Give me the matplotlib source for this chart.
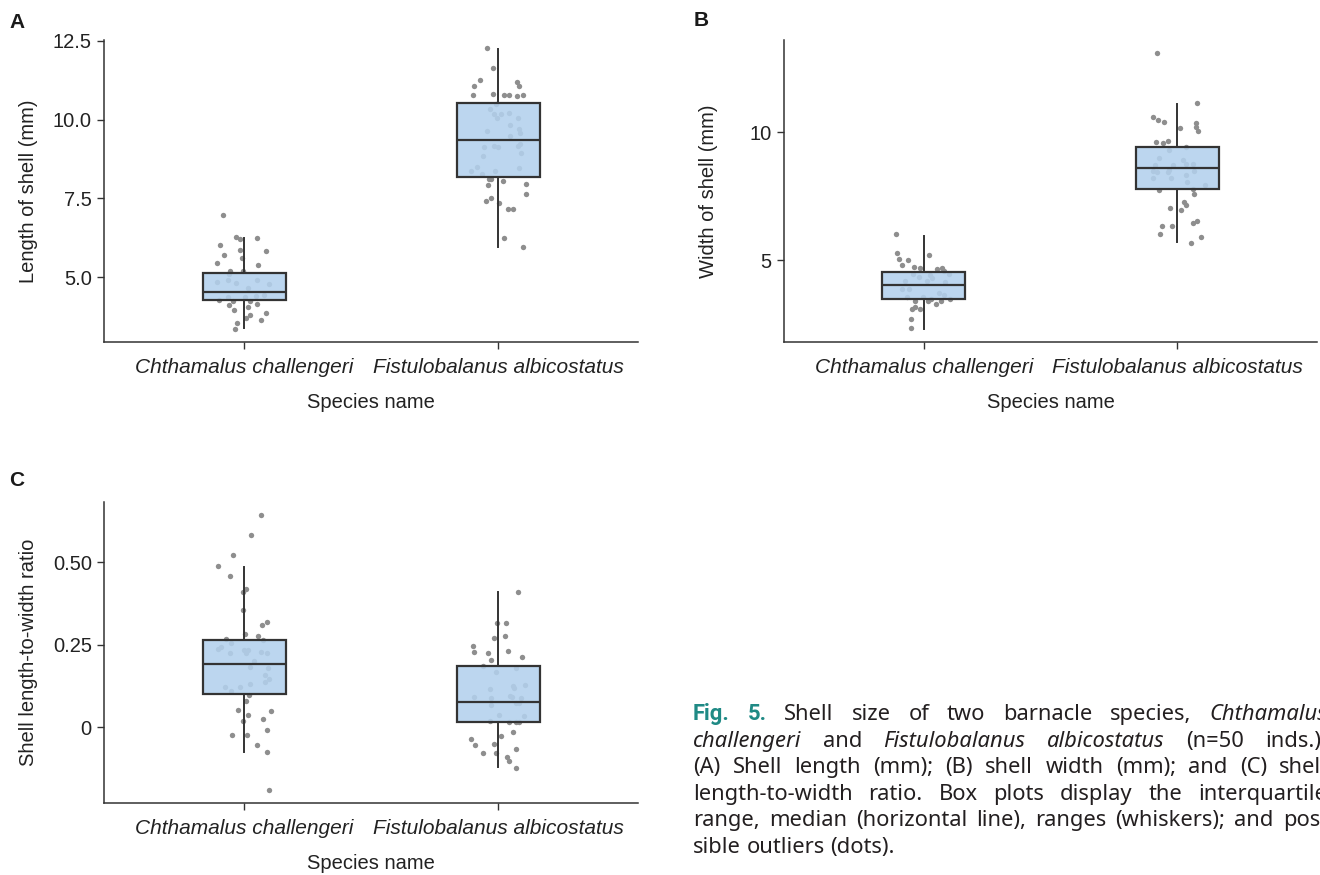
import matplotlib
matplotlib.use("Agg")
import matplotlib.pyplot as plt

# ---------------- data ----------------
species = ["Chthamalus challengeri", "Fistulobalanus albicostatus"]

# Panel A: shell length (mm)
A_cc_y = [6.96, 6.28, 6.22, 6.23, 6.02, 5.83, 5.85, 5.70, 5.60, 5.46, 5.39, 5.19, 5.10, 5.21, 4.85,
          4.90, 4.81, 4.92, 4.78, 4.66, 4.37, 4.38, 4.41, 4.43, 4.28, 4.26, 4.26, 4.11, 4.07, 4.15,
          3.95, 3.88, 3.82, 3.71, 3.66, 3.54, 3.37]
A_cc_dx = [-0.083, -0.032, -0.018, 0.049, -0.095, 0.088, -0.015, -0.079, -0.008, -0.106, 0.053, -0.057,
           -0.058, -0.005, -0.106, -0.065, -0.033, 0.051, 0.100, 0.017, -0.062, 0.005, 0.045, 0.077,
           -0.100, -0.042, 0.024, -0.058, 0.015, 0.049, -0.041, 0.086, 0.022, 0.009, 0.067, -0.028, -0.037]
A_fa_y = [12.26, 11.63, 11.24, 11.07, 11.18, 11.07, 10.79, 10.82, 10.78, 10.79, 10.76, 10.78, 10.50,
          10.33, 10.18, 10.06, 10.18, 10.20, 10.06, 9.83, 9.71, 9.57, 9.64, 9.47, 9.12, 9.17, 9.12,
          9.17, 9.23, 8.85, 8.95, 8.50, 8.38, 8.28, 8.38, 8.46, 8.12, 8.12, 7.92, 8.04, 7.97, 7.64,
          7.41, 7.52, 7.36, 7.17, 7.17, 6.23, 5.97]
A_fa_dx = [-0.044, -0.020, -0.070, -0.096, 0.074, 0.082, -0.100, -0.020, 0.022, 0.042, 0.074, 0.096,
           -0.009, -0.033, -0.017, -0.004, 0.011, 0.044, 0.078, 0.046, 0.082, 0.087, -0.046, 0.047,
           -0.057, -0.017, -0.001, 0.078, 0.087, -0.058, 0.090, -0.082, -0.106, -0.063, -0.013, 0.083,
           -0.037, -0.028, -0.040, 0.018, 0.110, 0.110, -0.049, -0.030, 0.004, 0.037, 0.058, 0.024, 0.098]
# box stats: [whisker low, Q1, median, Q3, whisker high]
A_cc_box = [3.385, 4.28, 4.54, 5.13, 6.23]
A_fa_box = [5.97, 8.17, 9.35, 10.52, 12.24]
A_ticks = [5.0, 7.5, 10.0, 12.5]
A_ticklabels = ["5.0", "7.5", "10.0", "12.5"]

# Panel B: shell width (mm)
B_cc_y = [6.03, 5.27, 5.04, 5.00, 5.21, 4.82, 4.73, 4.69, 4.65, 4.70, 4.60, 4.45, 4.35, 4.43, 4.32,
          4.48, 4.21, 4.21, 4.17, 3.88, 3.88, 3.74, 3.63, 3.58, 3.42, 3.58, 3.42, 3.48, 3.28, 3.40,
          3.48, 3.10, 3.19, 3.12, 2.72, 2.34]
B_cc_dx = [-0.108, -0.105, -0.097, -0.062, 0.021, -0.085, -0.037, -0.016, 0.053, 0.070, 0.079, -0.042,
           -0.020, 0.026, 0.034, 0.099, -0.075, 0.013, 0.085, -0.087, -0.058, 0.060, 0.078, -0.066,
           -0.033, -0.005, 0.017, 0.030, 0.047, 0.068, 0.105, -0.047, -0.033, -0.014, -0.050, -0.051]
B_fa_y = [13.10, 11.13, 10.60, 10.48, 10.42, 10.16, 10.35, 10.20, 10.04, 9.61, 9.57, 9.67, 9.44, 9.30,
          9.01, 8.74, 8.74, 8.93, 8.75, 8.75, 8.48, 8.45, 8.44, 8.53, 8.48, 8.20, 8.23, 8.32, 8.06,
          7.93, 7.75, 7.77, 7.58, 7.28, 7.17, 7.04, 6.95, 6.48, 6.55, 6.35, 6.34, 6.05, 5.90, 5.68]
B_fa_dx = [-0.079, 0.076, -0.097, -0.076, -0.053, 0.008, 0.072, 0.074, 0.079, -0.084, -0.057, -0.037,
           0.032, -0.035, -0.072, -0.089, -0.017, 0.022, 0.035, 0.062, -0.096, -0.081, -0.039, -0.033,
           0.067, -0.096, -0.024, 0.032, 0.039, 0.108, -0.071, 0.062, 0.066, 0.024, 0.032, -0.029,
           0.014, 0.062, 0.078, -0.060, -0.020, -0.067, 0.093, 0.055]
B_cc_box = [2.32, 3.50, 4.04, 4.56, 5.96]
B_fa_box = [5.72, 7.79, 8.62, 9.44, 11.11]
B_ticks = [5, 10]
B_ticklabels = ["5", "10"]

# Panel C: shell length-to-width ratio
C_cc_y = [0.642, 0.582, 0.522, 0.488, 0.458, 0.418, 0.408, 0.355, 0.318, 0.308, 0.283, 0.276, 0.267,
          0.265, 0.255, 0.244, 0.237, 0.223, 0.233, 0.232, 0.223, 0.227, 0.225, 0.199, 0.181, 0.179,
          0.159, 0.145, 0.138, 0.129, 0.122, 0.120, 0.110, 0.097, 0.079, 0.053, 0.049, 0.038, 0.023,
          0.019, -0.009, -0.024, -0.025, -0.053, -0.077, -0.191]
C_cc_dx = [0.066, 0.026, -0.044, -0.103, -0.057, 0.008, -0.004, -0.003, 0.090, 0.071, 0.005, 0.053,
           -0.071, 0.073, -0.051, -0.090, -0.103, -0.054, -0.001, 0.017, 0.007, 0.065, 0.090, 0.041,
           0.024, 0.094, 0.084, 0.098, 0.081, 0.024, -0.075, -0.017, -0.050, 0.018, 0.007, -0.025,
           0.104, 0.015, 0.073, -0.003, 0.091, -0.046, 0.011, 0.051, 0.090, 0.100]
C_fa_y = [0.408, 0.316, 0.314, 0.269, 0.275, 0.246, 0.227, 0.223, 0.203, 0.229, 0.213, 0.185, 0.180,
          0.168, 0.114, 0.124, 0.117, 0.126, 0.091, 0.088, 0.095, 0.090, 0.088, 0.068, 0.072, 0.072,
          0.038, 0.032, 0.018, 0.014, 0.014, 0.014, -0.016, -0.027, -0.037, -0.055, -0.051, -0.067,
          -0.080, -0.079, -0.091, -0.102, -0.125]
C_fa_dx = [0.079, -0.003, 0.029, -0.015, 0.028, -0.100, -0.095, -0.040, -0.030, 0.040, 0.094, -0.058,
           0.069, -0.008, -0.034, 0.058, 0.063, 0.106, -0.096, -0.030, 0.045, 0.054, 0.088, -0.029,
           0.070, 0.083, 0.003, 0.102, -0.032, 0.042, 0.071, 0.082, 0.057, 0.011, -0.107, -0.090,
           -0.018, 0.069, -0.059, -0.007, 0.036, 0.041, 0.069]
C_cc_box = [-0.075, 0.101, 0.191, 0.265, 0.486]
C_fa_box = [-0.122, 0.014, 0.077, 0.184, 0.410]
C_ticks = [0, 0.25, 0.50]
C_ticklabels = ["0", "0.25", "0.50"]

caption_lines = [
    [("Fig. 5.", "b"), ("Shell size of two barnacle species,", "n"), ("Chthamalus", "i")],
    [("challengeri", "i"), ("and", "n"), ("Fistulobalanus albicostatus", "i"), ("(n=50 inds.).", "n")],
    [("(A) Shell length (mm); (B) shell width (mm); and (C) shell", "n")],
    [("length-to-width ratio. Box plots display the interquartile", "n")],
    [("range, median (horizontal line), ranges (whiskers); and pos-", "n")],
    [("sible outliers (dots).", "n")],
]

# ---------------- style ----------------
plt.rcParams["font.family"] = ["Liberation Sans", "DejaVu Sans"]
W, H = 1320, 875
fig = plt.figure(figsize=(W / 100, H / 100), dpi=100)

DARK = "#333333"
BOXFACE = (0.70, 0.82, 0.93, 0.88)
PT = "#8e8e8e"
FS = 14.5


def px_rect(left, top, right, bottom):
    return [left / W, 1 - bottom / H, (right - left) / W, (bottom - top) / H]


def panel(rect, cc_y, cc_dx, fa_y, fa_dx, cc_box, fa_box, ylim, ticks, ticklabels, ylabel):
    ax = fig.add_axes(rect)
    for pos, ys, dxs in ((1, cc_y, cc_dx), (2, fa_y, fa_dx)):
        ax.scatter([pos + d for d in dxs], ys, s=15, color=PT, linewidths=0, zorder=1)
    stats = []
    for b in (cc_box, fa_box):
        stats.append(dict(whislo=b[0], q1=b[1], med=b[2], q3=b[3], whishi=b[4], fliers=[]))
    ax.bxp(stats, positions=[1, 2], widths=0.327, patch_artist=True, showfliers=False,
           showcaps=False,
           boxprops=dict(facecolor=BOXFACE, edgecolor=DARK, linewidth=1.6),
           medianprops=dict(color=DARK, linewidth=1.6),
           whiskerprops=dict(color=DARK, linewidth=1.4), zorder=2)
    ax.set_xlim(0.45, 2.55)
    ax.set_ylim(*ylim)
    ax.set_xticks([1, 2])
    ax.set_xticklabels(species, fontstyle="italic", fontsize=15)
    ax.set_yticks(ticks)
    ax.set_yticklabels(ticklabels, fontsize=FS)
    for s in ("top", "right"):
        ax.spines[s].set_visible(False)
    for s in ("left", "bottom"):
        ax.spines[s].set_color(DARK)
        ax.spines[s].set_linewidth(1.1)
    ax.tick_params(direction="out", length=5, width=1.0, color=DARK, labelcolor="#222222", pad=4)
    ax.tick_params(axis="x", pad=6)
    ax.set_ylabel(ylabel, fontsize=FS, color="#222222")
    ax.set_xlabel("Species name", fontsize=FS, color="#222222", labelpad=12)
    return ax


axA = panel(px_rect(104.3, 40, 638, 342.3), A_cc_y, A_cc_dx, A_fa_y, A_fa_dx, A_cc_box, A_fa_box,
            (2.94, 12.52), A_ticks, A_ticklabels, "Length of shell (mm)")
axB = panel(px_rect(784.3, 40, 1317, 342.3), B_cc_y, B_cc_dx, B_fa_y, B_fa_dx, B_cc_box, B_fa_box,
            (1.80, 13.61), B_ticks, B_ticklabels, "Width of shell (mm)")
axC = panel(px_rect(104.3, 502.3, 638, 803.3), C_cc_y, C_cc_dx, C_fa_y, C_fa_dx, C_cc_box, C_fa_box,
            (-0.231, 0.681), C_ticks, C_ticklabels, "Shell length-to-width ratio")

for ax in (axA, axB, axC):
    wpx = ax.get_position().width * W
    ax.yaxis.set_label_coords(-66 / wpx, 0.5)

for lab, x, y in (("A", 17, 22), ("B", 701, 21), ("C", 17, 481)):
    fig.text(x / W, 1 - y / H, lab, fontsize=15, fontweight="bold", ha="center", va="center",
             color="#1a1a1a")

# ---------------- caption (justified) ----------------
renderer = fig.canvas.get_renderer()
CAP_LEFT, CAP_RIGHT = 693, 1327
CAP_BASE0, CAP_STEP = 720, 26.6
CAP_SIZE = 15.8
styles = {
    "n": dict(color="#231f20", family=["Noto Sans", "DejaVu Sans"]),
    "i": dict(color="#231f20", style="italic", family=["Noto Sans", "DejaVu Sans"]),
    "b": dict(color="#1f8a85", weight="bold", family=["Roboto", "DejaVu Sans"]),
}
space_w = 0.26 * CAP_SIZE * 100 / 72

for li, line in enumerate(caption_lines):
    words = []
    for txt, st in line:
        for w in txt.split(" "):
            if w:
                words.append((w, st))
    base = CAP_BASE0 + li * CAP_STEP
    objs = []
    widths = []
    for w, st in words:
        t = fig.text(0, 1 - base / H, w, ha="left", va="baseline", size=CAP_SIZE, **styles[st])
        bb = t.get_window_extent(renderer)
        objs.append(t)
        widths.append(bb.width)
    last = li == len(caption_lines) - 1
    if last or len(words) < 2:
        gap = space_w
    else:
        gap = (CAP_RIGHT - CAP_LEFT - sum(widths)) / (len(words) - 1)
    x = CAP_LEFT
    for t, wd in zip(objs, widths):
        t.set_x(x / W)
        x += wd + gap

fig.savefig("out.png", dpi=100)
